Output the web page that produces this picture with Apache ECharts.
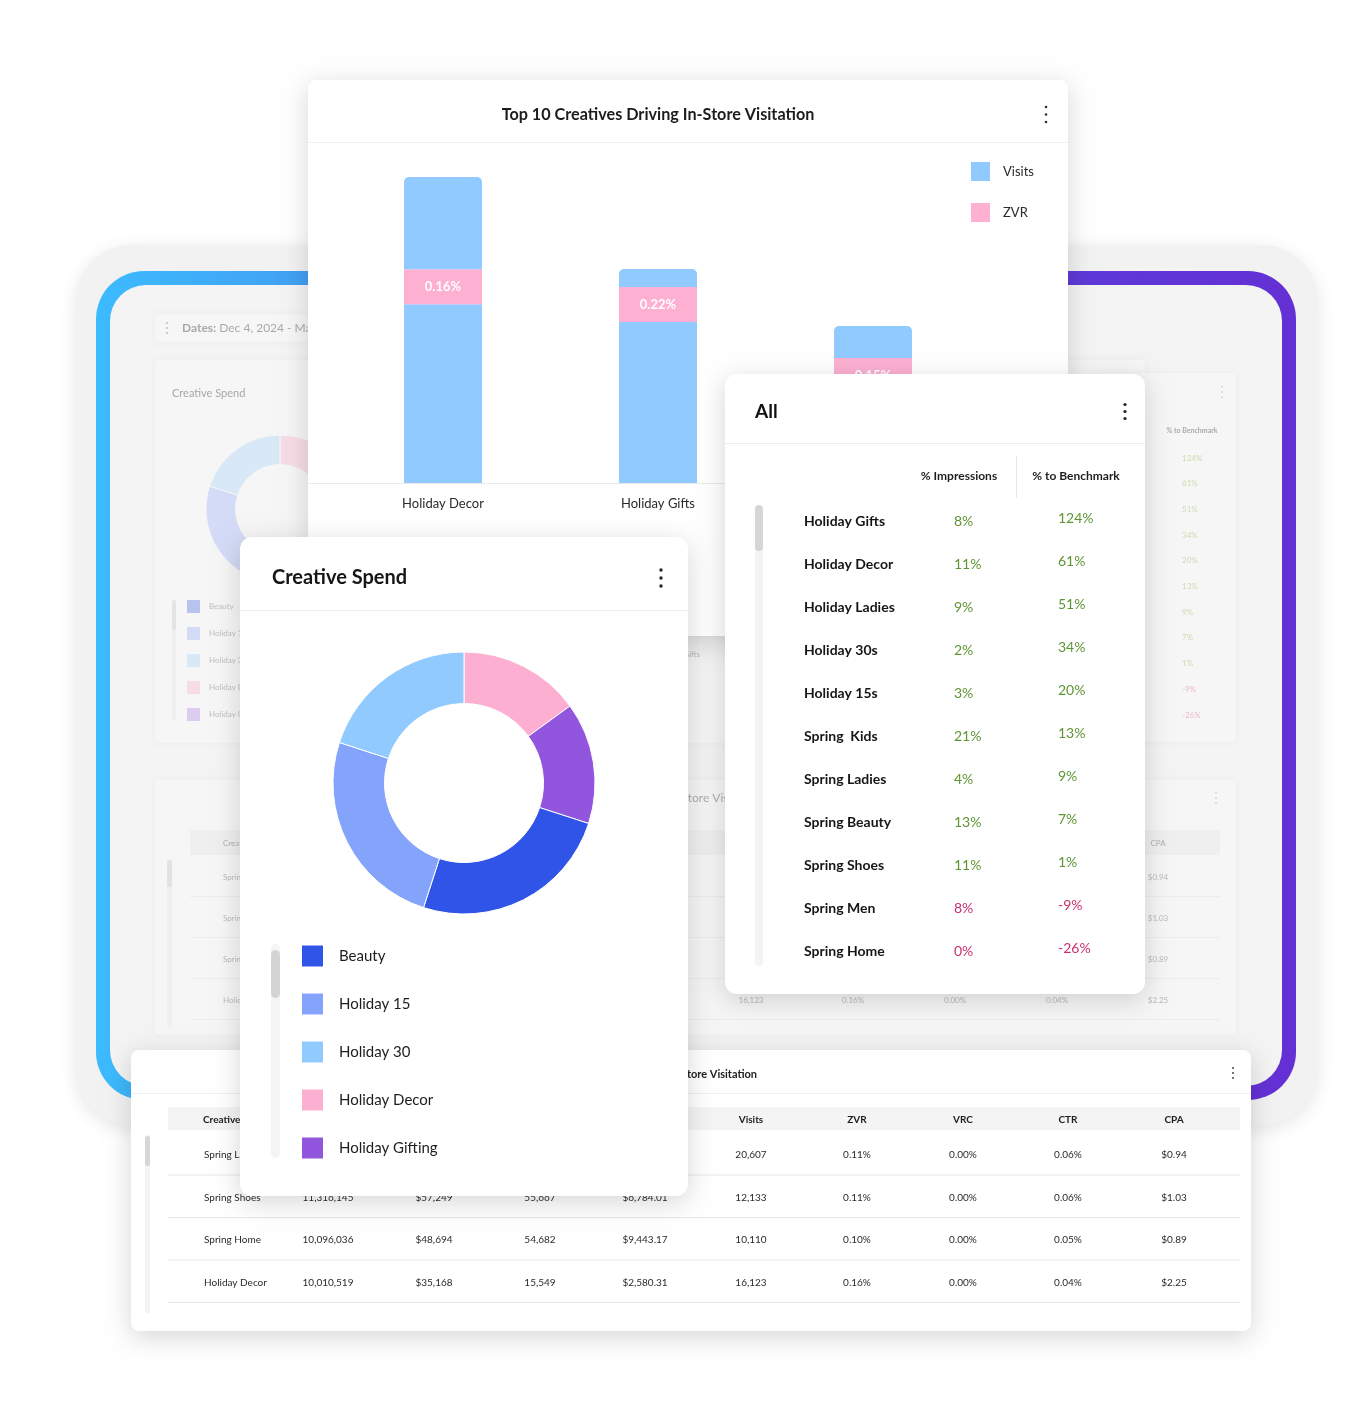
<!DOCTYPE html>
<html>
<head>
<meta charset="utf-8">
<script src="https://cdn.jsdelivr.net/npm/echarts@6/dist/echarts.min.js"></script>
<style>
html,body{margin:0;padding:0;background:#ffffff;}
#c{width:1372px;height:1406px;}
</style>
</head>
<body>
<div id="c"></div>
<script>
// ---------------- DATA ----------------
// Top 10 Creatives Driving In-Store Visitation (stacked: visits below band, ZVR band, visits above band), thousands
const barCategories = ['Holiday Decor', 'Holiday Gifts', 'Holiday Ladies'];
const visitsBelowBand = [9.4, 8.47, 4.74];
const zvrBand = [1.84, 1.84, 1.84];
const visitsAboveBand = [4.86, 0.95, 1.68];
const zvrLabels = ['0.16%', '0.22%', '0.15%'];

// Creative Spend donut (share %, clockwise from 12 o'clock)
const spendNames = ['Holiday Decor', 'Holiday Gifting', 'Beauty', 'Holiday 15', 'Holiday 30'];
const spendValues = [15, 15, 25, 25, 20];
const spendLegendOrder = ['Beauty', 'Holiday 15', 'Holiday 30', 'Holiday Decor', 'Holiday Gifting'];
const spendColors = {'Beauty':'#2f54e7','Holiday 15':'#84a3fb','Holiday 30':'#91caff','Holiday Decor':'#fdafd1','Holiday Gifting':'#9155de'};
const spendFaded = {'Beauty':'#b9c3ef','Holiday 15':'#d4dbf6','Holiday 30':'#d8e8f7','Holiday Decor':'#f6dce6','Holiday Gifting':'#dccdf0'};

// "All" table
const allHeaders = ['% Impressions', '% to Benchmark'];
const allCreatives = ['Holiday Gifts','Holiday Decor','Holiday Ladies','Holiday 30s','Holiday 15s','Spring  Kids','Spring Ladies','Spring Beauty','Spring Shoes','Spring Men','Spring Home'];
const pctImpressions = [8, 11, 9, 2, 3, 21, 4, 13, 11, 8, 0];
const pctToBenchmark = [124, 61, 51, 34, 20, 13, 9, 7, 1, -9, -26];

// Bottom table
const tableTitle = 'Top 10 Creatives Driving In-Store Visitation';
const tableHeaders = ['Creative','Impressions','Spend','Visits Lift','Revenue','Visits','ZVR','VRC','CTR','CPA'];
const tableCreatives = ['Spring Ladies','Spring Shoes','Spring Home','Holiday Decor'];
const tableImpressions = [null, 11316145, 10096036, 10010519];
const tableSpend = [null, 57249, 48694, 35168];
const tableVisitsLift = [null, 55667, 54682, 15549];
const tableRevenue = [null, 6784.01, 9443.17, 2580.31];
const tableVisits = [20607, 12133, 10110, 16123];
const tableZVR = [0.11, 0.11, 0.10, 0.16];
const tableVRC = [0.00, 0.00, 0.00, 0.00];
const tableCTR = [0.06, 0.06, 0.05, 0.04];
const tableCPA = [0.94, 1.03, 0.89, 2.25];

const datesText = 'Dec 4, 2024 - Mar 31, 2025';

// ---------------- HELPERS ----------------
const FONT = 'Lato';
const G = [];
function R(x, y, w, h, r, fill, z, extra) {
  G.push({type:'rect', silent:true, z:z, shape:{x:x, y:y, width:w, height:h, r:r}, style:Object.assign({fill:fill}, extra || {})});
}
function T(x, y, text, size, fill, z, opts) {
  opts = opts || {};
  G.push({type:'text', silent:true, z:z, x:x, y:y, style:Object.assign({
    text:text, font:(opts.bold ? 'bold ' : '') + size + 'px ' + FONT, fill:fill,
    align:opts.align || 'left', verticalAlign:'middle'
  }, opts.rich ? {rich:opts.rich} : {})});
}
function L(x1, y1, x2, y2, stroke, z, w) {
  G.push({type:'line', silent:true, z:z, shape:{x1:x1, y1:y1, x2:x2, y2:y2}, style:{stroke:stroke, lineWidth:w || 1}});
}
function dots(x, y, gap, r, fill, z) {
  for (let i = -1; i <= 1; i++) G.push({type:'circle', silent:true, z:z, shape:{cx:x, cy:y + i * gap, r:r}, style:{fill:fill}});
}
const mctx = document.createElement('canvas').getContext('2d');
function measure(text, font) { mctx.font = font; return mctx.measureText(text).width; }
const fmtInt = v => v == null ? '' : v.toLocaleString('en-US');
const fmtMoney0 = v => v == null ? '' : '$' + v.toLocaleString('en-US');
const fmtMoney2 = v => v == null ? '' : '$' + v.toLocaleString('en-US', {minimumFractionDigits:2, maximumFractionDigits:2});
const fmtPct2 = v => v == null ? '' : v.toFixed(2) + '%';
function tableRow(i) {
  return [tableCreatives[i], fmtInt(tableImpressions[i]), fmtMoney0(tableSpend[i]), fmtInt(tableVisitsLift[i]),
          fmtMoney2(tableRevenue[i]), fmtInt(tableVisits[i]), fmtPct2(tableZVR[i]), fmtPct2(tableVRC[i]),
          fmtPct2(tableCTR[i]), fmtMoney2(tableCPA[i])];
}
const cardShadow = {shadowBlur:26, shadowColor:'rgba(0,0,0,0.16)', shadowOffsetY:6};

// ---------------- BACKGROUND DEVICE ----------------
R(76, 245, 1242, 880, 56, '#f2f2f2', 0, {shadowBlur:18, shadowColor:'rgba(0,0,0,0.10)', shadowOffsetY:4});
R(96, 271, 1200, 829, 48,
  new echarts.graphic.LinearGradient(0, 0, 1, 0, [
    {offset:0, color:'#3cbbff'}, {offset:0.18, color:'#429ff3'},
    {offset:0.5, color:'#5a6fe4'}, {offset:0.8, color:'#5d3ad8'}, {offset:1, color:'#6430d4'}]), 1);
R(110, 285, 1172, 801, 36, '#f4f4f4', 2);

// faded dashboard panels
const fp = {shadowBlur:5, shadowColor:'rgba(0,0,0,0.035)'};
R(155, 314, 420, 28, 3, '#f6f6f6', 3, fp);
R(155, 360, 262, 383, 4, '#f6f6f6', 3, fp);
R(425, 360, 720, 383, 4, '#f6f6f6', 3, fp);
R(1100, 373, 136, 369, 4, '#f6f6f6', 3, fp);
R(155, 780, 1081, 255, 4, '#f6f6f6', 3, fp);

// faded: dates bar
dots(167, 328, 5, 0.9, '#b8b8b8', 4);
T(182, 328, '{b|Dates:} ' + datesText, 12, '#a9a9a9', 4, {rich:{b:{fontWeight:'bold', fontSize:12, fontFamily:FONT, fill:'#a9a9a9'}}});
// faded: creative spend panel
T(172, 393, 'Creative Spend', 11, '#a8a8a8', 4);
R(172, 600, 4, 120, 2, '#efefef', 4);
R(172, 600, 4, 30, 2, '#e4e4e4', 4);
spendLegendOrder.forEach((n, i) => {
  R(187, 600 + i * 27, 13, 13, 0, spendFaded[n], 4);
  T(209, 606.5 + i * 27, n, 8, '#bdbdbd', 4);
});
// faded: bar chart label peeking
T(700, 654, barCategories[1], 8, '#b9b9b9', 4, {align:'right'});
// faded: % to benchmark panel
dots(1222, 392, 5, 0.8, '#bdbdbd', 4);
T(1192, 431, allHeaders[1], 7, '#ababab', 4, {align:'center', bold:true});
pctToBenchmark.forEach((v, i) => {
  T(1182, 458 + i * 25.7, v + '%', 8, v < 0 ? '#ebb8ca' : '#cddcb0', 4);
});
// faded: table panel
const fTitleFont = '12px ' + FONT;
const fTitleX = 688 - measure('Top 10 Creatives Driving In-S', fTitleFont);
T(fTitleX, 798, tableTitle, 12, '#ababab', 4);
dots(1216, 798, 5, 0.8, '#bdbdbd', 4);
R(190, 830, 1030, 25, 0, '#efefef', 4);
const fCols = [223, 343, 445, 547, 649, 751, 853, 955, 1057, 1158];
tableHeaders.forEach((h, c) => T(fCols[c], 843, h, 8, '#b0b0b0', 4, {align: c === 0 ? 'left' : 'center'}));
tableCreatives.forEach((n, i) => {
  const y = 877 + i * 41;
  tableRow(i).forEach((v, c) => T(fCols[c], y, v, 8, '#b9b9b9', 4, {align: c === 0 ? 'left' : 'center'}));
  L(190, y + 19.5, 1220, y + 19.5, '#ececec', 4);
});
R(167, 860, 5, 167, 2, '#efefef', 4);
R(167, 860, 5, 27, 2, '#e2e2e2', 4);

// ---------------- BAR CHART CARD ----------------
R(308, 80, 760, 556, 8, '#ffffff', 10, cardShadow);
T(658, 114.5, 'Top 10 Creatives Driving In-Store Visitation', 16.2, '#1c1c1c', 11, {align:'center', bold:true});
dots(1046, 114.5, 7.5, 1.3, '#333', 11);
L(308, 142.5, 1068, 142.5, '#efefef', 11);
L(308, 483.5, 1068, 483.5, '#eaeaea', 11);

// ---------------- BOTTOM TABLE CARD ----------------
R(131, 1050, 1120, 281, 8, '#ffffff', 12, cardShadow);
T(757, 1074, tableTitle, 11, '#222', 13, {align:'right', bold:true});
dots(1233, 1073, 5, 1, '#444', 13);
L(131, 1093.5, 1251, 1093.5, '#f0f0f0', 13);
R(168, 1107, 1072, 23, 0, '#f4f4f4', 13);
const bCols = [204, 328, 434, 540, 645, 751, 857, 963, 1068, 1174];
tableHeaders.forEach((h, c) => T(c === 0 ? 203 : bCols[c], 1120, h, 10, '#1e1e1e', 13, {align: c === 0 ? 'left' : 'center', bold:true}));
tableCreatives.forEach((n, i) => {
  const y = 1155 + i * 42.5;
  tableRow(i).forEach((v, c) => T(bCols[c], y, v, 10, '#2a2a2a', 13, {align: c === 0 ? 'left' : 'center'}));
  L(168, y + 20, 1240, y + 20, '#e6e6e6', 13);
});
R(145, 1135, 5, 178, 2.5, '#f3f3f3', 13);
R(145, 1136, 5, 30, 2.5, '#d6d6d6', 13);

// ---------------- CREATIVE SPEND CARD ----------------
R(240, 537, 448, 659, 12, '#ffffff', 20, cardShadow);
T(272, 578, 'Creative Spend', 20, '#161616', 21, {bold:true});
dots(661, 578, 8, 1.7, '#222', 21);
L(240, 610.5, 688, 610.5, '#ececec', 21);
R(271, 944, 9, 214, 4.5, '#f5f5f5', 21);
R(271, 950, 9, 48, 4.5, '#d4d4d4', 21);

// ---------------- "ALL" CARD ----------------
R(725, 374, 420, 620, 12, '#ffffff', 20, cardShadow);
T(755, 412, 'All', 19, '#111', 21, {bold:true});
dots(1125, 411.5, 7, 1.6, '#222', 21);
L(725, 443.5, 1145, 443.5, '#ececec', 21);
T(959, 476, allHeaders[0], 12, '#1e1e1e', 21, {align:'center', bold:true});
T(1076, 476, allHeaders[1], 12, '#1e1e1e', 21, {align:'center', bold:true});
L(1016.5, 456, 1016.5, 498, '#e6e6e6', 21);
R(755, 505, 8, 461, 4, '#f4f4f4', 21);
R(755, 505, 8, 46, 4, '#d6d6d6', 21);
allCreatives.forEach((n, i) => {
  const y = 521 + i * 43;
  const col = pctToBenchmark[i] < 0 ? '#cc2f6f' : '#5f9432';
  T(804, y, n, 14, '#161616', 21, {bold:true});
  T(954, y, pctImpressions[i] + '%', 14, col, 21);
  T(1058, y - 2.5, pctToBenchmark[i] + '%', 14, col, 21);
});

// ---------------- ECHARTS OPTION ----------------
const totals = visitsBelowBand.map((v, i) => v + zvrBand[i] + visitsAboveBand[i]);
const barMax = Math.max.apply(null, totals);

const chart = echarts.init(document.getElementById('c'), null, {renderer:'canvas', width:1372, height:1406});
chart.setOption({
  animation:false,
  textStyle:{fontFamily:FONT},
  graphic:{elements:G},
  grid:{left:335.5, top:177, width:645, height:306, z:11, containLabel:false},
  xAxis:{type:'category', data:barCategories, z:11,
    axisLine:{show:false}, axisTick:{show:false},
    axisLabel:{color:'#2a2a2a', fontSize:13, margin:14, fontFamily:FONT}},
  yAxis:{type:'value', min:0, max:barMax, show:false, z:11},
  legend:[
    {data:['Visits','ZVR'], orient:'vertical', left:966, top:157, itemWidth:19, itemHeight:19, itemGap:22,
     icon:'rect', selectedMode:false, z:11,
     textStyle:{fontSize:13, color:'#2a2a2a', fontFamily:FONT, padding:[0,0,0,8]}},
    {data:spendLegendOrder, orient:'vertical', left:295, top:938.5, itemWidth:23, itemHeight:23, itemGap:23,
     icon:'rect', selectedMode:false, z:21,
     textStyle:{fontSize:15, color:'#1e1e1e', fontFamily:FONT, padding:[0,0,0,10]}}
  ],
  series:[
    {type:'pie', name:'Creative Spend', z:21, silent:true, center:[464, 783], radius:[79.5, 131], startAngle:90,
     label:{show:false}, labelLine:{show:false}, emphasis:{disabled:true},
     itemStyle:{borderColor:'#ffffff', borderWidth:1},
     data:spendNames.map((n, i) => ({name:n, value:spendValues[i], itemStyle:{color:spendColors[n]}}))},
    {type:'pie', name:'Creative Spend faded', z:5, silent:true, center:[280, 509], radius:[44.5, 74], startAngle:90,
     label:{show:false}, labelLine:{show:false}, emphasis:{disabled:true},
     itemStyle:{borderColor:'#f6f6f6', borderWidth:1},
     data:spendNames.map((n, i) => ({name:n, value:spendValues[i], itemStyle:{color:spendFaded[n]}}))},
    {type:'bar', name:'Visits', stack:'v', z:11, silent:true, barWidth:78, data:visitsBelowBand,
     itemStyle:{color:'#91caff'}},
    {type:'bar', name:'ZVR', stack:'v', z:11, silent:true, barWidth:78, data:zvrBand,
     itemStyle:{color:'#fdb0d2'},
     label:{show:true, position:'inside', formatter:p => zvrLabels[p.dataIndex], color:'#ffffff', fontWeight:'bold', fontSize:13, fontFamily:FONT}},
    {type:'bar', name:'Visits', stack:'v', z:11, silent:true, barWidth:78, data:visitsAboveBand,
     itemStyle:{color:'#91caff', borderRadius:[5,5,0,0]}}
  ]
});
</script>
</body>
</html>
